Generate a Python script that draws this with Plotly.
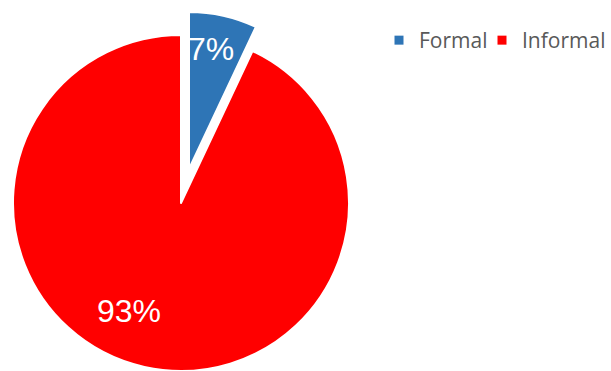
import plotly.graph_objects as go

categories = ["Formal", "Informal"]
values = [7, 93]
colors = ["#2E75B6", "#FF0000"]

W, H = 611, 371
CLEAR = "rgba(0,0,0,0)"

def dom(cx, cy, r):
    return dict(x=[max(0, (cx - r) / W), min(1, (cx + r) / W)],
                y=[max(0, 1 - (cy + r) / H), min(1, 1 - (cy - r) / H)])

common = dict(labels=categories, values=values, sort=False, direction="clockwise",
              rotation=0, textinfo="none", showlegend=False, hoverinfo="label+percent")

fig = go.Figure()
# main (red) body
fig.add_trace(go.Pie(**common, domain=dom(181, 203, 168),
                     marker=dict(colors=[CLEAR, colors[1]],
                                 line=dict(color="white", width=[0, 2]))))
# exploded (blue) slice
fig.add_trace(go.Pie(**common, domain=dom(189, 169, 157),
                     marker=dict(colors=[colors[0], CLEAR],
                                 line=dict(color="white", width=[2, 0]))))
# legend entries (one legend box per entry for exact spacing)
for name, c, lg in zip(categories, colors, ["legend", "legend2"]):
    fig.add_trace(go.Scatter(x=[None], y=[None], mode="markers", name=name,
                             marker=dict(symbol="square", size=9, color=c),
                             showlegend=True, hoverinfo="skip", legend=lg))

# percentage labels computed from the values
total = sum(values)
label_pos = [(211, 49), (129, 311)]
for v, (px, py) in zip(values, label_pos):
    fig.add_annotation(x=px / W, y=1 - py / H, xref="paper", yref="paper",
                       text=f"{round(100 * v / total)}%", showarrow=False,
                       xanchor="center", yanchor="middle",
                       font=dict(family="Liberation Sans, Arial", size=32, color="white"))

leg_common = dict(orientation="h", y=1 - 20 / H, yanchor="top",
                  font=dict(family="Open Sans", size=21, color="#595959"),
                  bgcolor=CLEAR, itemclick=False, itemdoubleclick=False)

fig.update_layout(
    width=W, height=H, autosize=False,
    margin=dict(l=0, r=0, t=0, b=0),
    paper_bgcolor="white", plot_bgcolor=CLEAR,
    xaxis=dict(visible=False), yaxis=dict(visible=False),
    legend=dict(**leg_common, x=379 / W, xanchor="left"),
    legend2=dict(**leg_common, x=1, xanchor="right"),
)

fig.write_html("out.html")
